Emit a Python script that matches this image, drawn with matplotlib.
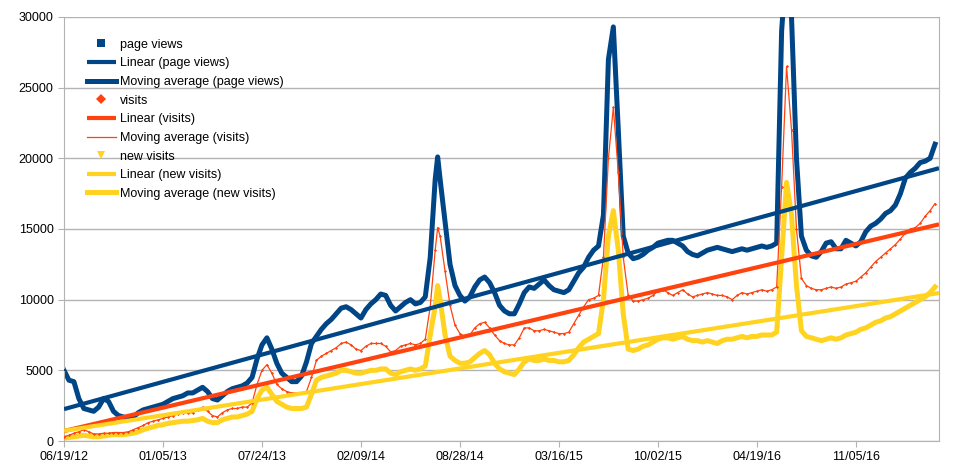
import matplotlib.pyplot as plt
import numpy as np
from datetime import date, timedelta

# day offsets from the first day (06/19/12), read off roughly every 10 days
start = date(2012, 6, 19)
days = list(range(0, 751, 10)) + [755] + list(range(760, 1761, 10))

page_views = [
    5000, 4300, 4200, 3000, 2300, 2200, 2100, 2400, 3000, 2800,
    2100, 1800, 1700, 1600, 1700, 2000, 2200, 2300, 2400, 2500,
    2600, 2800, 3000, 3100, 3200, 3400, 3400, 3600, 3800, 3500,
    3000, 2900, 3200, 3500, 3700, 3800, 3900, 4100, 4500, 5800,
    6800, 7300, 6500, 5500, 4800, 4500, 4200, 4200, 4600, 5600,
    6900, 7400, 7900, 8300, 8600, 9000, 9400, 9500, 9300, 9000,
    8700, 9300, 9700, 10000, 10400, 10300, 9600, 9200, 9500, 9800,
    10000, 9700, 9800, 10200, 13000, 18500, 20100,
    18500, 15500, 12500, 11000, 10300, 9900, 10200, 10900, 11400, 11600,
    11200, 10500, 9600, 9200, 9000, 9000, 9700, 10500, 10900, 10800,
    11100, 11400, 11000, 10700, 10600, 10500, 10700, 11300, 11900, 12300,
    13000, 13500, 13800, 16000, 27000, 29300, 22000, 14500, 13300, 12900,
    13000, 13200, 13500, 13700, 14000, 14100, 14200, 14200, 14000, 13800,
    13400, 13200, 13100, 13300, 13500, 13600, 13700, 13600, 13500, 13400,
    13500, 13600, 13500, 13600, 13700, 13800, 13700, 13800, 14000, 29000,
    34000, 30000, 20000, 14500, 13500, 13100, 13000, 13400, 14000, 14100,
    13600, 13600, 14200, 14000, 13800, 14100, 14800, 15200, 15400, 15700,
    16100, 16300, 16700, 17500, 18600, 19000, 19300, 19700, 19800, 20000,
    21000,
]

visits = [
    300, 400, 550, 650, 800, 650, 500, 500, 550, 550,
    600, 600, 600, 650, 800, 950, 1100, 1300, 1400, 1500,
    1600, 1700, 1800, 1900, 2000, 2000, 2000, 2200, 2400, 2100,
    1800, 1700, 2000, 2200, 2300, 2300, 2400, 2400, 2700, 4000,
    5000, 5400, 4800, 4000, 3700, 3500, 3400, 3400, 3400, 3500,
    4500, 5700, 6000, 6200, 6400, 6600, 6900, 7000, 6800, 6500,
    6400, 6700, 6900, 6900, 6900, 6700, 6300, 6400, 6700, 6800,
    6900, 6800, 6900, 7200, 9500, 13500, 15100,
    14500, 12000, 9600, 8200, 7600, 7400, 7500, 8000, 8300, 8400,
    8000, 7500, 7100, 6900, 6800, 6800, 7300, 8000, 8000, 7800,
    7800, 7900, 7800, 7700, 7600, 7600, 7700, 8300, 8900, 9500,
    10000, 10100, 10300, 13000, 20000, 23600, 19000, 13000, 10300, 9900,
    9900, 10000, 10100, 10300, 10600, 10700, 10500, 10300, 10500, 10700,
    10400, 10200, 10300, 10400, 10500, 10400, 10300, 10300, 10200, 10000,
    10300, 10500, 10400, 10500, 10600, 10700, 10600, 10700, 10900, 18000,
    26500, 22000, 15000, 11500, 11000, 10800, 10700, 10700, 10800, 10900,
    10800, 10900, 11100, 11200, 11300, 11600, 11900, 12300, 12700, 13000,
    13300, 13600, 13900, 14300, 14700, 15000, 15100, 15400, 15900, 16300,
    16800,
]

new_visits = [
    200, 250, 300, 350, 400, 350, 300, 300, 350, 400,
    450, 450, 450, 500, 550, 650, 800, 900, 1000, 1100,
    1150, 1250, 1300, 1350, 1400, 1400, 1450, 1500, 1600, 1400,
    1300, 1300, 1500, 1600, 1700, 1700, 1800, 1900, 2100, 3000,
    3600, 3800, 3300, 2800, 2600, 2400, 2300, 2300, 2300, 2400,
    3300, 4300, 4500, 4600, 4700, 4800, 5000, 5000, 4900, 4800,
    4800, 4900, 5000, 5000, 5100, 5100, 4800, 4700, 4900, 5000,
    5100, 5000, 5100, 5300, 7500, 9500, 11000,
    10000, 7500, 6000, 5700, 5500, 5500, 5600, 5900, 6200, 6400,
    6100, 5500, 5100, 4900, 4800, 4700, 5100, 5600, 5800, 5700,
    5700, 5800, 5700, 5700, 5600, 5600, 5700, 6100, 6600, 7000,
    7200, 7400, 7600, 10000, 14500, 16300, 13500, 9000, 6500, 6400,
    6500, 6700, 6800, 7000, 7200, 7300, 7300, 7200, 7300, 7400,
    7200, 7100, 7100, 7000, 7100, 7000, 6900, 7100, 7200, 7200,
    7300, 7400, 7300, 7400, 7400, 7500, 7500, 7500, 7700, 13000,
    18300, 16000, 11000, 7800, 7400, 7300, 7200, 7100, 7200, 7300,
    7200, 7300, 7500, 7600, 7700, 7900, 8000, 8200, 8400, 8500,
    8700, 8800, 9000, 9200, 9400, 9600, 9800, 10000, 10200, 10500,
    10900,
]

tick_days = list(range(0, 1601, 200))
last_day = 1768

BLUE = "#004586"
RED = "#ff420e"
YELLOW = "#ffd320"
GRID = "#b3b3b3"


def main():
    plt.rcParams["font.family"] = ["Liberation Sans", "DejaVu Sans"]
    fig = plt.figure(figsize=(9.59, 4.76), dpi=100)
    ax = fig.add_axes([64 / 959, 35 / 476, 875 / 959, 424 / 476])

    x = np.array(days)
    xt = np.array([0, last_day])
    series = [
        ("page views", page_views, BLUE, "s", 3.6, 2.5),
        ("visits", visits, RED, "D", 0.9, 2.6),
        ("new visits", new_visits, YELLOW, "v", 3.6, 2.4),
    ]
    handles = []
    for name, vals, col, mk, ma_lw, z in series:
        y = np.array(vals, dtype=float)
        pts, = ax.plot(x, y, ls="none", marker=mk, ms=1.6, mew=0, color=col,
                       zorder=z + 0.5, label=name)
        # linear trend fitted to the read values
        k, b = np.polyfit(x, y, 1)
        lin, = ax.plot(xt, k * xt + b, color=col, lw=3.0, zorder=4,
                       solid_capstyle="butt", label="Linear (%s)" % name)
        ma, = ax.plot(x, y, color=col, lw=ma_lw, zorder=z,
                      label="Moving average (%s)" % name)
        handles += [pts, lin, ma]

    ax.set_xlim(0, last_day)
    ax.set_ylim(0, 30000)
    ax.set_yticks(range(0, 30001, 5000))
    ax.set_xticks(tick_days)
    ax.set_xticklabels([(start + timedelta(days=d)).strftime("%m/%d/%y")
                        for d in tick_days])
    ax.grid(axis="y", color=GRID, lw=1)
    ax.set_axisbelow(True)
    for s in ax.spines.values():
        s.set_color(GRID)
    ax.spines["top"].set_visible(False)
    ax.tick_params(colors=GRID, labelcolor="black", labelsize=9, length=4)

    ax.legend(handles=handles, loc="upper left", frameon=False,
              fontsize=9, markerscale=3.2, handlelength=2.35,
              handletextpad=0.3, labelspacing=0.53,
              bbox_to_anchor=(0.013, 0.975))
    fig.savefig("out.png", dpi=100)


if __name__ == "__main__":
    main()
